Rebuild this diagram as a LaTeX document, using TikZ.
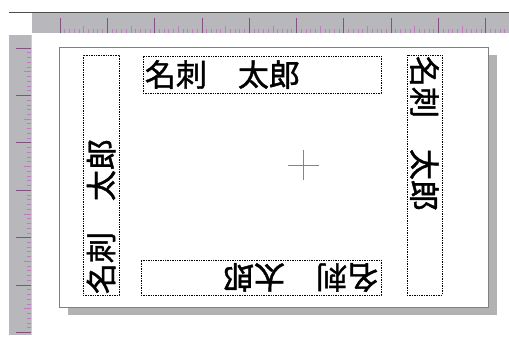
\documentclass[tikz,border=0pt]{standalone}
\usepackage{fontspec}
\usepackage{tikz}
\newfontfamily\jpfont[FakeBold=1.2]{Noto Sans CJK JP}
\definecolor{rulergray}{RGB}{184,184,188}
\definecolor{tickpink}{RGB}{190,125,190}
\definecolor{tickdark}{RGB}{130,80,130}
\definecolor{shadowgray}{RGB}{178,178,178}
\definecolor{crossblue}{RGB}{128,128,160}

\begin{document}
\begin{tikzpicture}[x=1pt, y=-1pt]
	  \tikzstyle{fieldbox} = [draw=black, line width=0.6pt, dash pattern=on 1.4pt off 1pt, inner sep=0pt]
	  \tikzstyle{namefont} = [font=\jpfont\fontsize{31pt}{31pt}\selectfont, inner sep=0pt]
	  \tikzstyle{tick} = [tickpink, line width=0.7pt]
	  \useasboundingbox (0,0) rectangle (509,349);
	  % rulers
	  \fill[rulergray] (32,12) rectangle (509,33);
	  \fill[rulergray] (9,35) rectangle (31,335);
	  \draw[gray!60!black, line width=0.8pt] (9,12) -- (509,12);
	  \draw[tickpink!50, line width=0.6pt] (31,35) -- (31,335);
	  \foreach \i in {0,...,95}
	    \draw[tick] ({60+\i*4.73},33) -- ++(0,-4);
	  \foreach \i in {0,...,18}
	    \draw[tick] ({60+\i*23.65},33) -- ++(0,-7);
	  \foreach \i in {0,...,9}
	    \draw[tick, tickdark] ({60+\i*47.3},33) -- ++(0,-15);
	  \foreach \i in {0,...,60}
	    \draw[tick] (31,{48+\i*4.74}) -- ++(-4,0);
	  \foreach \i in {0,...,12}
	    \draw[tick] (31,{48+\i*23.7}) -- ++(-7,0);
	  \foreach \i in {0,...,6}
	    \draw[tick, tickdark] (31,{48+\i*47.4}) -- ++(-15,0);
	  % card
	  \fill[shadowgray] (68,55) rectangle (497,315);
	  \draw[gray, fill=white, line width=0.8pt] (59,47) rectangle (488,307);
	  % crosshair
	  \coordinate (mid) at (303,165);
	  \draw[crossblue, line width=0.6pt] ([xshift=-15pt]mid) -- ([xshift=16pt]mid)
	    ([yshift=15pt]mid) -- ([yshift=-15pt]mid);
	  % name fields
	  \node[fieldbox, minimum width=238pt, minimum height=37pt] (topbox) at (262,74.5) {};
	  \node[fieldbox, minimum width=240pt, minimum height=35pt] (bottombox) at (261,277.5) {};
	  \node[fieldbox, minimum width=36pt, minimum height=240pt] (leftbox) at (101,175) {};
	  \node[fieldbox, minimum width=35pt, minimum height=240pt] (rightbox) at (424.5,175) {};
	  \node[namefont, anchor=west] (topname) at ([xshift=2pt]topbox.west) {名刺　太郎};
	  \node[namefont, anchor=west, rotate=180] (bottomname) at ([xshift=-3pt]bottombox.east) {名刺　太郎};
	  \node[namefont, anchor=west, rotate=90] (leftname) at ([yshift=1pt]leftbox.south) {名刺　太郎};
	  \node[namefont, anchor=west, rotate=-90] (rightname) at ([yshift=-1pt]rightbox.north) {名刺　太郎};
\end{tikzpicture}
\end{document}
